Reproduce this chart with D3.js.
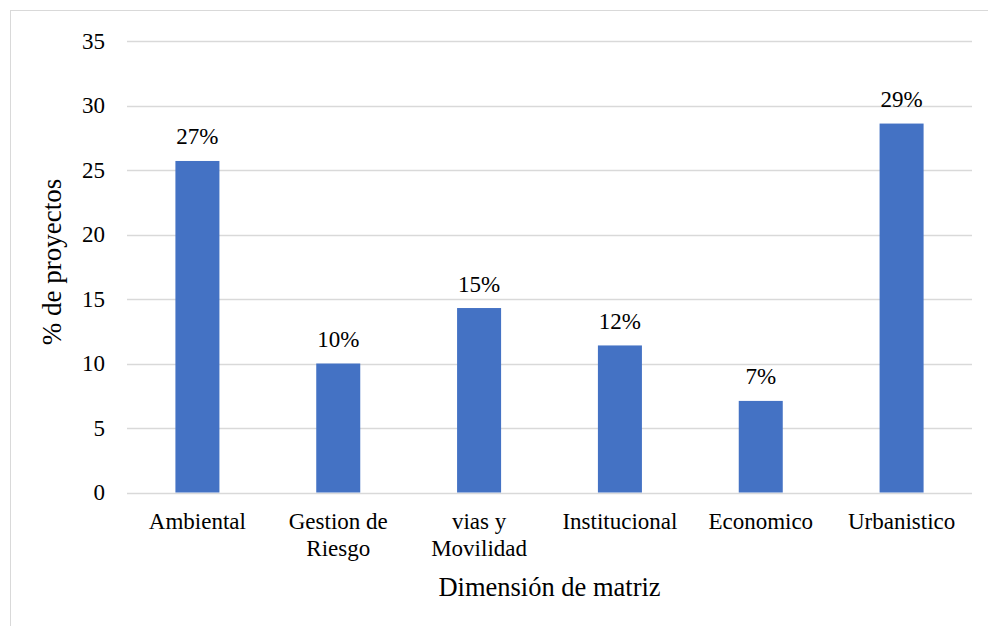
<!DOCTYPE html>
<html>
<head>
<meta charset="utf-8">
<script src="https://cdn.jsdelivr.net/npm/d3@7"></script>
<style>
  body { margin: 0; background: #fff; }
  svg text { font-family: "Liberation Serif", "Times New Roman", serif !important; fill: #000; }
</style>
</head>
<body>
<div id="chart"></div>
<script>
// chart data
var categories = ["Ambiental", "Gestion de|Riesgo", "vias y|Movilidad", "Institucional", "Economico", "Urbanistico"]
var values = [25.7, 10.0, 14.3, 11.4, 7.1, 28.6]
var valueLabels = ["27%", "10%", "15%", "12%", "7%", "29%"]
var yTicks = [0, 5, 10, 15, 20, 25, 30, 35]

var width = 988
    height = 626
    serif = "Liberation Serif, Times New Roman, serif"

var svg = d3.select("#chart")
    .append("svg")
    .attr("width", width)
    .attr("height", height)
    .attr("font-family", serif)

// outer frame of the chart (right and bottom edges fall off the picture)
svg.append("rect")
    .attr("x", 10.5)
    .attr("y", 10.5)
    .attr("width", 1000)
    .attr("height", 700)
    .attr("fill", "none")
    .attr("stroke", "#d9d9d9")

var x = d3.scaleBand()
    .domain(categories)
    .range([127, 972])
    .paddingInner(0.6875)
    .paddingOuter(0.34375)

var y = d3.scaleLinear()
    .domain([0, 35])
    .range([492.5, 41])

// gridlines
svg.append("g")
    .selectAll("line")
    .data(yTicks)
    .enter()
    .append("line")
    .attr("x1", 127)
    .attr("x2", 972)
    .attr("y1", function(d) { return Math.round(y(d)) + 0.5 })
    .attr("y2", function(d) { return Math.round(y(d)) + 0.5 })
    .attr("stroke", "#d9d9d9")
    .attr("stroke-width", 1.5)

// y tick labels
var yAxis = svg.append("g")
    .attr("transform", "translate(127,0)")
    .call(d3.axisLeft(y).tickValues(yTicks).tickSize(0).tickPadding(22))
yAxis.attr("font-family", serif)
yAxis.select(".domain").remove()
yAxis.selectAll("text")
    .style("font-size", "23px")
    .attr("fill", "#000")

// bars
svg.append("g")
    .selectAll("rect")
    .data(values)
    .enter()
    .append("rect")
    .attr("x", function(d, i) { return x(categories[i]) })
    .attr("width", x.bandwidth())
    .attr("y", function(d) { return y(d) })
    .attr("height", function(d) { return y(0) - y(d) })
    .attr("fill", "#4472c4")

// value labels
svg.append("g")
    .selectAll("text")
    .data(values)
    .enter()
    .append("text")
    .attr("x", function(d, i) { return x(categories[i]) + x.bandwidth() / 2 })
    .attr("y", function(d) { return y(d) - 16.5 })
    .attr("text-anchor", "middle")
    .style("font-size", "23px")
    .text(function(d, i) { return valueLabels[i] })

// category labels (two lines where needed)
var cat = svg.append("g")
    .selectAll("text")
    .data(categories)
    .enter()
    .append("text")
    .attr("text-anchor", "middle")
    .style("font-size", "23px")
    .attr("transform", function(d) { return "translate(" + (x(d) + x.bandwidth() / 2) + ",529)" })
cat.selectAll("tspan")
    .data(function(d) { return d.split("|") })
    .enter()
    .append("tspan")
    .attr("x", 0)
    .attr("y", function(d, i) { return i * 26.5 })
    .text(function(d) { return d })

// axis titles
svg.append("text")
    .attr("x", 549.5)
    .attr("y", 596)
    .attr("text-anchor", "middle")
    .style("font-size", "26.5px")
    .text("Dimensión de matriz")

svg.append("text")
    .attr("transform", "translate(61,262) rotate(-90)")
    .attr("text-anchor", "middle")
    .style("font-size", "27px")
    .text("% de proyectos")
</script>
</body>
</html>
